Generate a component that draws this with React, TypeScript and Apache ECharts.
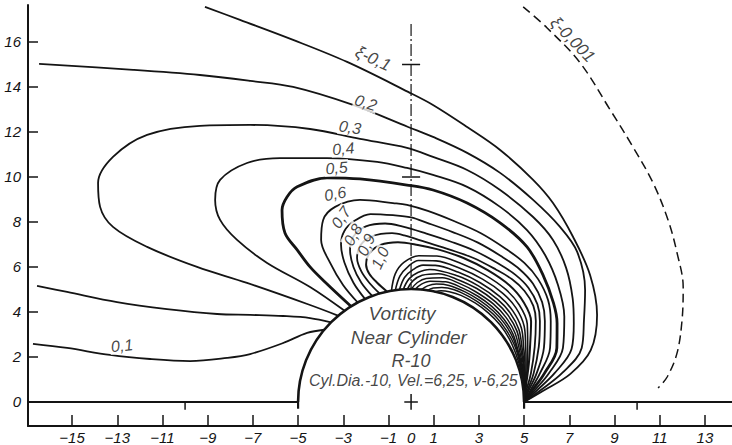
import React, { useEffect, useRef } from "react";
import * as echarts from "echarts";

// ---- axes ----
const xMin = -16.95;
const xMax = 14.2;
const yMin = -1.067;
const yMax = 17.64;
const xTickValues = [-15, -13, -11, -9, -7, -5, -3, -1, 1, 3, 5, 7, 9, 11, 13];
const xLabelValues = [-15, -13, -11, -9, -7, -5, -3, -1, 0, 1, 3, 5, 7, 9, 11, 13];
const yTickValues = [0, 2, 4, 6, 8, 10, 12, 14, 16];

// ---- contours (x, y in chart units) ----
const c01Upper = [[-9.12,17.56],[-7.57,16.98],[-5.22,16.09],[-2.83,15.11],[-0.13,13.78],[0.97,13.2],[2.48,12.22],[3.94,11.2],[5.4,9.87],[6.28,8.84],[7.17,7.33],[7.92,5.64],[8.23,3.87],[7.95,2.3],[7.05,1.25],[5.85,0.5],[5,0]];
const c01Lower = [[-16.73,2.58],[-15.22,2.4],[-13.32,2.09],[-11.55,1.91],[-9.78,1.82],[-8.14,1.96],[-7.12,2.13],[-5.66,2.62],[-4.6,3.07],[-3.83,3.21]];
const c02Lower = [[-16.55,5.16],[-15.22,4.89],[-13.01,4.44],[-10.8,4.13],[-8.58,3.91],[-7.12,3.87],[-5.66,3.82],[-4.47,3.73],[-3.54,3.54]];
const c02 = [[-16.46,15.02],[-12.3,14.76],[-9.34,14.53],[-7.12,14.27],[-5.22,14.0],[-2.57,13.2],[-0.13,12.22],[0.97,11.78],[2.48,11.07],[3.94,10.18],[5.4,8.98],[6.59,7.78],[7.35,6.67],[7.7,4.98],[7.65,3.64],[7.55,2.4],[6.7,1.3],[5.7,0.5],[5,0]];
const c03 = [[-3.21,3.83],[-4.47,4.31],[-7.26,5.29],[-9.47,6.0],[-11.68,6.89],[-13.19,7.78],[-13.76,8.67],[-13.85,9.73],[-13.19,10.89],[-11.68,11.87],[-9.34,12.27],[-7.12,12.31],[-4.47,12.13],[-2.26,11.69],[-0.18,11.29],[0.97,10.89],[2.48,10.31],[3.94,9.42],[5.4,8.22],[6.28,7.2],[6.86,5.96],[7.15,4.6],[7.2,3.5],[7.1,2.35],[6.35,1.28],[5.55,0.5],[5,0]];
const c04 = [[-2.94,4.05],[-4.47,5.11],[-6.37,6.18],[-7.7,7.2],[-8.45,8.09],[-8.67,8.98],[-8.45,9.87],[-7.26,10.62],[-5.8,10.84],[-3.72,10.84],[-1.5,10.67],[-0.18,10.4],[0.97,10.09],[2.48,9.56],[3.94,8.67],[5.13,7.64],[5.93,6.53],[6.5,5.2],[6.78,3.8],[6.72,2.4],[6.1,1.28],[5.45,0.5],[5,0]];
const c05 = [[-2.65,4.24],[-3.81,5.33],[-4.47,6.0],[-5.04,6.76],[-5.58,7.51],[-5.71,8.53],[-5.49,9.11],[-5.04,9.56],[-3.72,9.96],[-2.26,9.91],[-0.18,9.64],[0.97,9.42],[2.48,8.84],[3.94,7.96],[5.13,6.89],[5.84,5.64],[6.3,4.4],[6.46,3.5],[6.45,2.4],[5.9,1.27],[5.35,0.5],[5,0]];
const c06 = [[-2.35,4.41],[-3.01,5.2],[-3.58,6.18],[-3.98,7.2],[-3.89,8.09],[-3.36,8.67],[-2.26,8.98],[-0.8,8.84],[-0.18,8.76],[0.74,8.49],[1.92,8.03],[3.09,7.5],[4.2,6.8],[5.01,6.18],[5.62,5.46],[6.06,4.53],[6.18,3.6],[6.15,2.4],[5.7,1.27],[5.27,0.5],[5,0]];
const c07 = [[-2.03,4.57],[-2.55,5.3],[-2.95,6.2],[-3.1,7.0],[-2.95,7.6],[-2.5,8.05],[-1.8,8.35],[-0.8,8.3],[0,8.2],[0.71,7.96],[1.84,7.55],[2.96,7.08],[4.03,6.45],[4.8,5.9],[5.39,5.26],[5.8,4.43],[5.92,3.6],[5.88,2.42],[5.55,1.26],[5.2,0.5],[5,0]];
const c08 = [[-1.71,4.7],[-2.2,5.3],[-2.55,6.0],[-2.7,6.76],[-2.55,7.35],[-2.0,7.8],[-1.15,7.93],[-0.4,7.8],[0.68,7.48],[1.77,7.12],[2.85,6.7],[3.88,6.14],[4.62,5.65],[5.19,5.08],[5.59,4.34],[5.7,3.6],[5.65,2.45],[5.42,1.26],[5.15,0.5],[5,0]];
const c09 = [[-1.38,4.81],[-1.85,5.3],[-2.2,5.8],[-2.39,6.4],[-2.25,6.95],[-1.75,7.35],[-0.84,7.5],[-0.3,7.4],[0.66,7.1],[1.71,6.77],[2.76,6.4],[3.75,5.89],[4.47,5.45],[5.02,4.93],[5.41,4.27],[5.52,3.6],[5.47,2.45],[5.3,1.26],[5.1,0.5],[5,0]];
const c10 = [[-1.04,4.89],[-1.5,5.3],[-1.85,5.7],[-1.99,6.1],[-1.85,6.6],[-1.35,6.98],[-0.58,7.1],[0.3,6.98],[1.19,6.78],[2.32,6.4],[3.39,5.86],[4.35,5.19],[4.96,4.47],[5.31,3.58],[5.27,2.57],[5.21,1.69],[5.11,0.9],[5,0]];
const inner1 = [[-0.87,4.92],[-0.7,5.69],[-0.32,6.2],[0.34,6.5],[1.14,6.49],[2.24,6.14],[3.26,5.65],[4.19,5.0],[4.79,4.31],[5.14,3.47],[5.16,2.52],[5.15,1.67],[5.08,0.9],[5,0]];
const inner2 = [[-0.7,4.95],[-0.49,5.6],[-0.11,6.04],[0.33,6.29],[1.11,6.27],[2.16,5.94],[3.16,5.46],[4.06,4.83],[4.64,4.18],[5.0,3.38],[5.07,2.47],[5.09,1.65],[5.06,0.89],[5,0]];
const inner3 = [[-0.52,4.97],[-0.29,5.53],[0.1,5.89],[0.53,6.08],[1.07,6.07],[2.1,5.76],[3.06,5.3],[3.93,4.68],[4.5,4.05],[4.88,3.29],[4.98,2.43],[5.04,1.64],[5.04,0.89],[5,0]];
const inner4 = [[-0.35,4.99],[-0.1,5.46],[0.3,5.75],[0.83,5.89],[2.04,5.61],[2.98,5.16],[3.83,4.56],[4.39,3.95],[4.77,3.22],[4.91,2.4],[5.0,1.63],[5.03,0.89],[5,0]];
const inner5 = [[-0.17,5.0],[0.09,5.39],[0.49,5.63],[1.21,5.7],[1.99,5.47],[2.91,5.04],[3.74,4.45],[4.29,3.86],[4.68,3.16],[4.85,2.37],[4.97,1.61],[5.01,0.88],[5,0]];
const inner6 = [[0,5],[0.28,5.31],[0.67,5.49],[1.38,5.52],[2.13,5.27],[2.84,4.91],[3.65,4.35],[4.19,3.77],[4.59,3.09],[4.79,2.34],[4.93,1.6],[4.99,0.88],[5,0]];
const inner7 = [[0.17,5.0],[0.46,5.24],[0.85,5.37],[1.53,5.34],[2.26,5.07],[2.94,4.71],[3.57,4.25],[4.1,3.69],[4.5,3.04],[4.73,2.31],[4.9,1.59],[4.98,0.88],[5,0]];
const inner8 = [[0.44,4.98],[0.73,5.16],[1.11,5.24],[1.68,5.18],[2.39,4.89],[3.04,4.51],[3.64,4.04],[4.14,3.48],[4.52,2.82],[4.75,2.11],[4.9,1.41],[4.99,0.7],[5,0]];
const inner9 = [[0.7,4.95],[0.98,5.07],[1.36,5.09],[1.91,4.99],[2.59,4.67],[3.21,4.26],[3.77,3.77],[4.22,3.18],[4.57,2.53],[4.79,1.84],[4.93,1.14],[4.99,0.52],[5,0]];
const inner10 = [[1.04,4.89],[1.32,4.94],[1.69,4.9],[2.21,4.74],[2.85,4.39],[3.43,3.95],[3.94,3.42],[4.34,2.82],[4.63,2.16],[4.84,1.48],[4.96,0.79],[5,0]];
const c0001 = [[4.96,17.56],[6.02,16.62],[7.48,15.07],[8.81,12.98],[9.82,11.33],[10.71,9.73],[11.37,8.09],[11.77,6.62],[12.04,5.11],[11.99,3.64],[11.77,2.18],[11.33,1.11],[10.93,0.62]];

// ---- contour labels: text, x, y, rotation ----
const symbolLabels: [string, number, number, number][] = [
  ["ξ-0,1", -1.68, 15.25, -25],
  ["ξ-0,001", 7.15, 16.1, -46],
];
const valueLabels: [string, number, number, number][] = [
  ["0,2", -2.0, 13.3, -18],
  ["0,3", -2.7, 12.2, -8],
  ["0,4", -3.0, 11.25, 5],
  ["0,5", -3.3, 10.4, 5],
  ["0,6", -3.36, 9.25, 10],
  ["0,7", -3.1, 8.2, 55],
  ["0,8", -2.57, 7.42, 60],
  ["0,9", -1.99, 6.98, 65],
  ["1,0", -1.37, 6.4, 65],
  ["0,1", -12.79, 2.5, 6],
];

// ---- caption inside the cylinder ----
const captionLines: [string, number, number, number][] = [
  ["Vorticity", -0.4, 3.95, 19],
  ["Near Cylinder", -0.1, 2.85, 19],
  ["R-10", 0, 1.8, 18],
  ["Cyl.Dia.-10, Vel.=6,25, ν-6,25", 0.1, 0.95, 16],
];

// ---- geometry / decorations ----
const cylinder = [[0, 0, 5]];
const groundLeft = [[xMin, 0], [-5, 0]];
const groundRight = [[5, 0], [xMax, 0]];
const footLeft = [[-5, 0], [-5, -0.3]];
const footRight = [[5, 0], [5, -0.3]];
const hangTickLeft = [[-10, 0], [-10, -0.35]];
const hangTickRight = [[10, 0], [10, -0.35]];
const centerH = [[-0.3, 0], [0.3, 0]];
const centerV = [[0, -0.35], [0, 0.35]];
const symmetryAxis = [[0, 16.8], [0, 5]];
const cross15H = [[-0.4, 15], [0.4, 15]];
const cross10H = [[-0.4, 10], [0.4, 10]];

const FONT = "'Liberation Sans', Arial, sans-serif";
const INK = "#141414";

function lineSeries(data: number[][], width: number, type: any = "solid", smooth: number | boolean = 0.35) {
  return {
    type: "line",
    data,
    smooth,
    symbol: "none",
    silent: true,
    lineStyle: { color: INK, width, type },
    z: 2,
  };
}

function labelSeries(items: [string, number, number, number][], extra: any) {
  return {
    type: "scatter",
    symbolSize: 1,
    silent: true,
    z: 5,
    itemStyle: { color: "rgba(0,0,0,0)" },
    label: { show: true, position: "inside", formatter: "{b}", color: INK, fontSize: 16, fontStyle: "italic", fontFamily: FONT, ...extra },
    data: items.map(([t, x, y, r]) => ({ name: t, value: [x, y], label: { rotate: r } })),
  };
}

export default function App() {
  const ref = useRef<HTMLDivElement>(null);
  useEffect(() => {
    if (!ref.current) return;
    const chart = echarts.init(ref.current, undefined, { renderer: "svg" });
    const contours: [number[][], number][] = [
      [c01Upper, 1.8], [c01Lower, 1.8], [c02Lower, 1.8], [c02, 1.8], [c03, 1.8], [c04, 1.8],
      [c05, 2.8], [c06, 1.8], [c07, 1.8], [c08, 1.8], [c09, 1.8], [c10, 2.0],
      [inner1, 1.6], [inner2, 1.6], [inner3, 1.6], [inner4, 1.6], [inner5, 1.6],
      [inner6, 1.5], [inner7, 1.5], [inner8, 1.5], [inner9, 1.5], [inner10, 1.5],
    ];
    const fmt = (v: number) => (v < 0 ? "\u2212" + Math.abs(v) : String(v));
    const option: any = {
      animation: false,
      backgroundColor: "#ffffff",
      grid: { left: 28, right: 0, top: 5, bottom: 19, containLabel: false },
      xAxis: {
        type: "value",
        min: xMin,
        max: xMax,
        axisLine: { show: true, onZero: false, lineStyle: { color: INK, width: 2 } },
        axisTick: { show: true, inside: true, length: 11, customValues: xTickValues, lineStyle: { color: INK, width: 1.5 } },
        axisLabel: { show: true, customValues: xLabelValues, formatter: fmt, margin: 4, color: INK, fontSize: 15, fontStyle: "italic", fontFamily: FONT },
        splitLine: { show: false },
      },
      yAxis: {
        type: "value",
        min: yMin,
        max: yMax,
        axisLine: { show: true, onZero: false, lineStyle: { color: INK, width: 2 } },
        axisTick: { show: true, inside: true, length: 10, customValues: yTickValues, lineStyle: { color: INK, width: 1.5 } },
        axisLabel: { show: true, customValues: yTickValues, formatter: fmt, margin: 7, color: INK, fontSize: 15, fontStyle: "italic", fontFamily: FONT },
        splitLine: { show: false },
      },
      series: [
        ...contours.map(([d, w]) => lineSeries(d, w)),
        lineSeries(c0001, 1.5, [9, 5]),
        lineSeries(groundLeft, 2.2, "solid", false),
        lineSeries(groundRight, 2.2, "solid", false),
        lineSeries(footLeft, 2.2, "solid", false),
        lineSeries(footRight, 2.2, "solid", false),
        lineSeries(hangTickLeft, 1.5, "solid", false),
        lineSeries(hangTickRight, 1.5, "solid", false),
        lineSeries(centerH, 1.5, "solid", false),
        lineSeries(centerV, 1.5, "solid", false),
        lineSeries(symmetryAxis, 1.2, [12, 3, 2, 3], false),
        lineSeries(cross15H, 1.5, "solid", false),
        lineSeries(cross10H, 1.5, "solid", false),
        {
          type: "custom",
          silent: true,
          z: 3,
          data: cylinder,
          renderItem: (params: any, api: any) => {
            const c = api.coord([api.value(0), api.value(1)]);
            const r = api.size([api.value(2), 0])[0];
            return {
              type: "arc",
              shape: { cx: c[0], cy: c[1], r, startAngle: Math.PI, endAngle: 2 * Math.PI, clockwise: true },
              style: { fill: "none", stroke: INK, lineWidth: 2.6 },
            };
          },
        },
        labelSeries(symbolLabels, { fontSize: 17 }),
        labelSeries(valueLabels, { backgroundColor: "#ffffff", padding: [0, 1] }),
        {
          type: "scatter",
          symbolSize: 1,
          silent: true,
          z: 5,
          itemStyle: { color: "rgba(0,0,0,0)" },
          label: { show: true, position: "inside", formatter: "{b}", color: INK, fontStyle: "italic", fontFamily: FONT },
          data: captionLines.map(([t, x, y, s]) => ({ name: t, value: [x, y], label: { fontSize: s } })),
        },
      ],
    };
    chart.setOption(option);
    return () => chart.dispose();
  }, []);
  return <div ref={ref} style={{ position: "fixed", left: 0, top: 0, width: 732, height: 445 }} />;
}
